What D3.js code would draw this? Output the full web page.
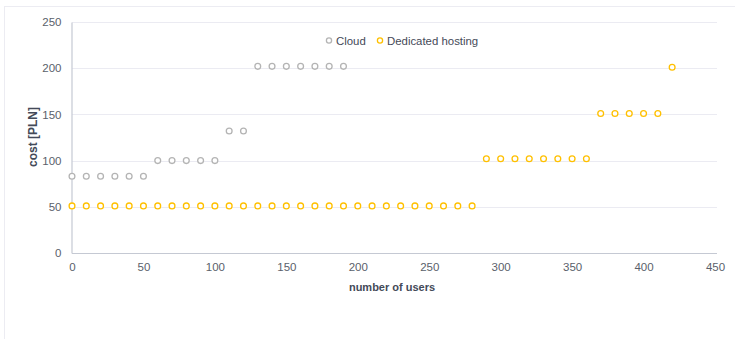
<!DOCTYPE html>
<html>
<head>
<meta charset="utf-8">
<script src="https://cdn.jsdelivr.net/npm/d3@7"></script>
<style>
  body { margin: 0; background: #fff; }
  svg { font-family: "Liberation Sans", Arial, sans-serif; }
</style>
</head>
<body>
<div id="chart"></div>
<script>
// users axis values (step 10)
var cloudUsers = [0, 10, 20, 30, 40, 50, 60, 70, 80, 90, 100, 110, 120, 130, 140, 150, 160, 170, 180, 190];
var cloudCost = [83, 83, 83, 83, 83, 83, 100, 100, 100, 100, 100, 132, 132, 202, 202, 202, 202, 202, 202, 202];

var hostUsers = [0, 10, 20, 30, 40, 50, 60, 70, 80, 90, 100, 110, 120, 130, 140, 150, 160, 170, 180, 190,
  200, 210, 220, 230, 240, 250, 260, 270, 280, 290, 300, 310, 320, 330, 340, 350, 360,
  370, 380, 390, 400, 410, 420];
var hostCost = [51, 51, 51, 51, 51, 51, 51, 51, 51, 51, 51, 51, 51, 51, 51, 51, 51, 51, 51, 51,
  51, 51, 51, 51, 51, 51, 51, 51, 51, 102, 102, 102, 102, 102, 102, 102, 102,
  151, 151, 151, 151, 151, 201];

var xTicks = [0, 50, 100, 150, 200, 250, 300, 350, 400, 450];
var yTicks = [0, 50, 100, 150, 200, 250];
var seriesNames = ["Cloud", "Dedicated hosting"];
var seriesColors = ["#b4b4b4", "#ffc000"];

var svgWidth = 735, svgHeight = 339;
var svg = d3.select("#chart").append("svg")
  .attr("width", svgWidth)
  .attr("height", svgHeight);

// outer frame (top and left edges visible)
svg.append("rect")
  .attr("x", 4.5).attr("y", 6.5)
  .attr("width", 740).attr("height", 400)
  .attr("fill", "none")
  .attr("stroke", "#ececf2")
  .attr("stroke-width", 1);

var x = d3.scaleLinear().domain([0, 450]).range([72, 715]);
var y = d3.scaleLinear().domain([0, 250]).range([253, 22]);

// gridlines
svg.append("g").selectAll("line")
  .data(yTicks.filter(d => d > 0))
  .enter().append("line")
  .attr("x1", x(0)).attr("x2", x(450) + 2)
  .attr("y1", d => Math.round(y(d)) + 0.5)
  .attr("y2", d => Math.round(y(d)) + 0.5)
  .attr("stroke", "#ebebf2")
  .attr("stroke-width", 1.2);

// axes
var xAxis = d3.axisBottom(x).tickValues(xTicks).tickSize(0).tickPadding(9);
var yAxis = d3.axisLeft(y).tickValues(yTicks).tickSize(0).tickPadding(10);

var gx = svg.append("g")
  .attr("transform", "translate(0," + (Math.round(y(0)) + 0.5) + ")")
  .call(xAxis);
gx.select(".domain").attr("stroke", "#c5c9d3").attr("stroke-width", 1.2)
  .attr("d", "M" + x(0) + ",0H" + (x(450) + 2));

var gy = svg.append("g")
  .attr("transform", "translate(" + (Math.round(x(0)) - 0.5) + ",0)")
  .call(yAxis);
gy.select(".domain").attr("stroke", "#c5c9d3").attr("stroke-width", 1.2);

svg.selectAll(".tick text")
  .attr("fill", "#5a5f6b")
  .style("font-size", "11.5px")
  .style("font-family", "'Liberation Sans', Arial, sans-serif");

// axis titles
svg.append("text")
  .attr("x", 392).attr("y", 291)
  .attr("text-anchor", "middle")
  .attr("fill", "#444a58")
  .style("font-size", "11px")
  .style("font-weight", "bold")
  .text("number of users");

svg.append("text")
  .attr("transform", "translate(37,137) rotate(-90)")
  .attr("text-anchor", "middle")
  .attr("fill", "#444a58")
  .style("font-size", "12px")
  .style("font-weight", "bold")
  .text("cost [PLN]");

// points
function drawSeries(xs, ys, color) {
  svg.append("g").selectAll("circle")
    .data(xs)
    .enter().append("circle")
    .attr("cx", (d, i) => x(d))
    .attr("cy", (d, i) => y(ys[i]))
    .attr("r", 2.9)
    .attr("fill", "#fff")
    .attr("stroke", color)
    .attr("stroke-width", 1.3);
}
drawSeries(cloudUsers, cloudCost, seriesColors[0]);
drawSeries(hostUsers, hostCost, seriesColors[1]);

// legend
var legendX = [329, 380];
var legend = svg.append("g");
seriesNames.forEach(function(name, i) {
  legend.append("circle")
    .attr("cx", legendX[i]).attr("cy", 40.5)
    .attr("r", 2.6)
    .attr("fill", "#fff")
    .attr("stroke", seriesColors[i])
    .attr("stroke-width", 1.3);
  legend.append("text")
    .attr("x", legendX[i] + 7).attr("y", 44.5)
    .attr("fill", "#444a58")
    .style("font-size", "11.4px")
    .text(name);
});
</script>
</body>
</html>
